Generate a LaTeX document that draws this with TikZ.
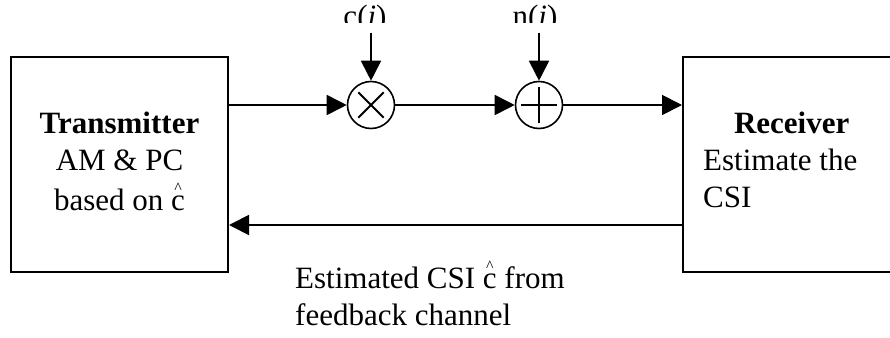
\documentclass[tikz,border=0pt]{standalone}
\usepackage{fontspec}
\setmainfont{Liberation Serif}
\usetikzlibrary{arrows.meta}

% c with a small raised caret above it
\newcommand{\chatc}{\makebox[0pt][l]{\makebox[0.444em]{\smash{\raisebox{17pt}{\fontsize{16}{16}\selectfont\textasciicircum}}}}c}

\begin{document}
\begin{tikzpicture}[x=1pt,y=-1pt,
  every node/.style={font=\fontsize{31}{37}\selectfont},
  block/.style={draw, line width=2pt, minimum width=217pt, minimum height=215pt, inner sep=0pt},
  junction/.style={draw, circle, line width=1.6pt, minimum size=47pt, inner sep=0pt},
  txt/.style={inner sep=0pt},
  arr/.style={line width=1.8pt, -{Triangle[length=20pt,width=20pt]}},
  wire/.style={line width=1.8pt}]
  \useasboundingbox (0,0) rectangle (890,337);
  \clip (0,0) rectangle (890,337);

  % blocks
  \node[block] (tx) at (119.5,164.5) {};
  \node[block] (rx) at (791.5,164.5) {};

  \node[txt, anchor=north, align=center] (txlbl) at (119.5,112)
    {\textbf{Transmitter}\\ AM \& PC\\[3pt] based on \chatc};
  \node[txt, anchor=north west, align=left] (rxlbl) at (703,112)
    {\makebox[177pt]{\textbf{Receiver}}\\ Estimate the\\ CSI};

  % multiplier and adder
  \node[junction] (mul) at (371,105) {};
  \node[junction] (add) at (539,105) {};
  \draw[wire] ([shift={(-12.7pt,12.7pt)}]mul.center) -- ([shift={(12.7pt,-12.7pt)}]mul.center)
              ([shift={(-12.7pt,-12.7pt)}]mul.center) -- ([shift={(12.7pt,12.7pt)}]mul.center);
  \draw[wire] ([xshift=-18pt]add.center) -- ([xshift=18pt]add.center)
              ([yshift=-18pt]add.center) -- ([yshift=18pt]add.center);

  % external inputs
  \begin{scope}
    \clip (0,0) rectangle (890,23);
    \node[txt, anchor=base] (clbl) at (365,26.5) {c(\textit{i})};
    \node[txt, anchor=base] (nlbl) at (535,26.5) {n(\textit{i})};
  \end{scope}
  \coordinate (cin) at (371,33);
  \coordinate (nin) at (539,33);
  \draw[arr] (cin) -- (mul);
  \draw[arr] (nin) -- (add);

  % forward path
  \draw[arr] (mul -| tx.east) -- (mul);
  \draw[arr] (mul) -- (add);
  \draw[arr] (add) -- (add -| rx.west);

  % feedback path
  \draw[arr] ([yshift=-60.5pt]rx.west) -- ([yshift=-60.5pt]tx.east);
  \node[txt, anchor=north west, align=left] (fblbl) at (295,266.8)
    {Estimated CSI \chatc\ from\\ feedback channel};
\end{tikzpicture}
\end{document}
